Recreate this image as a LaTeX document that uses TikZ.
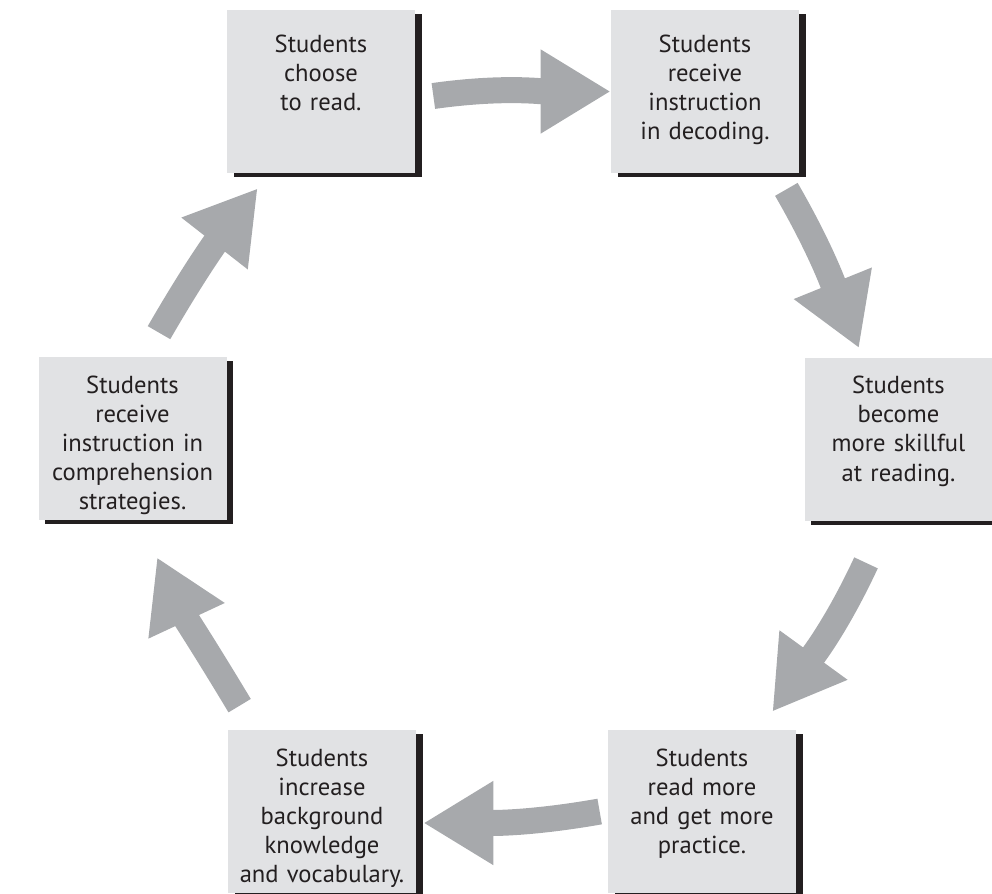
\documentclass[tikz,border=0pt]{standalone}
\usepackage{fontspec}
\setmainfont{PT Sans}
\usetikzlibrary{arrows.meta,shadows}
\definecolor{boxgray}{HTML}{E1E2E4}
\definecolor{arrowgray}{HTML}{A7A9AC}
\definecolor{inkblack}{HTML}{231F20}
\begin{document}
\begin{tikzpicture}[
  every node/.style={font=\fontsize{14}{16.6}\selectfont, text=inkblack},
  box/.style={fill=boxgray, align=center, text width=3.76cm, inner sep=0pt,
    text height=0.72cm, text depth=2.54cm,
    drop shadow={shadow xshift=0.13cm, shadow yshift=-0.08cm, fill=inkblack, opacity=1}},
  toprow/.style={text height=0.84cm, text depth=2.42cm},
  flow/.style={arrowgray, line width=0.52cm, -{Triangle[length=1.4cm, width=1.58cm]}}
]
  \useasboundingbox (0,0) rectangle (19.84,-17.86);

  \node[box, toprow] (choose) at (6.42,-1.83) {Students\\choose\\to read.};
  \node[box, toprow] (decode) at (14.10,-1.83) {Students\\receive\\instruction\\in decoding.};
  \node[box] (skill) at (17.97,-8.78) {Students\\become\\more skillful\\at reading.};
  \node[box] (more) at (14.04,-16.23) {Students\\read more\\and get more\\practice.};
  \node[box] (vocab) at (6.44,-16.23) {Students\\increase\\background\\knowledge\\and vocabulary.};
  \node[box] (compr) at (2.65,-8.77) {Students\\receive\\instruction in\\comprehension\\strategies.};

  \draw[flow] ([shift={(0.36,-0.09)}]choose.east) to[out=8, in=180] (decode.west);
  \draw[flow] ([shift={(-0.26,-0.32)}]decode.south east) to[out=-60, in=112] ([shift={(-0.79,0.18)}]skill.north);
  \draw[flow] ([shift={(-0.65,-0.84)}]skill.south) to[out=-115, in=54] ([shift={(-0.48,0.36)}]more.north east);
  \draw[flow] ([shift={(-0.16,0)}]more.west) to[out=190, in=0] ([shift={(0.14,-0.23)}]vocab.east);
  \draw[flow] ([shift={(0.24,0.48)}]vocab.north west) to[out=121, in=-65] ([shift={(0.49,-0.74)}]compr.south);
  \draw[flow] ([shift={(0.53,0.48)}]compr.north) to[out=60, in=232] ([shift={(0.62,-0.30)}]choose.south west);
\end{tikzpicture}
\end{document}
